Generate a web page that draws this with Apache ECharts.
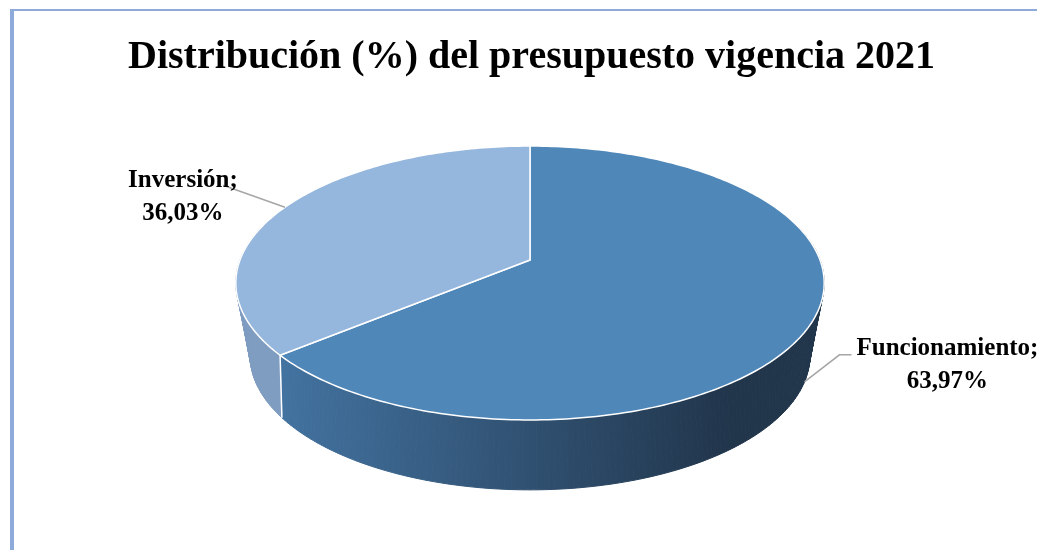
<!DOCTYPE html>
<html>
<head>
<meta charset="utf-8">
<script src="https://cdn.jsdelivr.net/npm/echarts@6/dist/echarts.min.js"></script>
<style>
html, body { margin: 0; padding: 0; background: #fff; }
#chart { width: 1037px; height: 550px; }
</style>
</head>
<body>
<div id="chart"></div>
<script>
const sliceNames = ['Funcionamiento', 'Inversión'];
const sliceShares = [63.97, 36.03];

// tilted pie geometry (top rim and bottom rim, perspective-ish)
const CX = 530;
const TOP = { cy: 260, r: 290, ry: 133.1, k: 0.168 };
const BOTTOM = { cy: 322, r: 271, ry: 125.9, k: 0.25 };

const topColors = ['#4f87b9', '#95b6dd'];
const sideColors = [
  {
    type: 'linear', x: 285, y: 0, x2: 730, y2: 0, global: true,
    colorStops: [{ offset: 0, color: '#42729f' }, { offset: 1, color: '#21354b' }]
  },
  '#7f9dc1'
];
// label + leader offsets relative to the slice anchor point
const labelLayout = [
  { text: [143, -17], leader: [[35, -27], [47, -27]] },
  { text: [-102, -10], leader: [[-62, -22]] }
];

const total = sliceShares.reduce((a, b) => a + b, 0);

function rim(ring, deg) {
  const a = deg * Math.PI / 180;
  const u = Math.sin(a), v = -Math.cos(a);
  const s = 1 / (1 - ring.k * v);
  return [CX + ring.r * u * s, ring.cy + ring.ry * v * s];
}

function fmt(v) {
  return v.toFixed(2).replace('.', ',') + '%';
}

function renderSlice(params, api) {
  const i = params.dataIndex;
  let before = 0;
  for (let j = 0; j < i; j++) before += sliceShares[j];
  const value = api.value(0);
  const a0 = before / total * 360;
  const a1 = (before + value) / total * 360;
  const children = [];

  // side wall, drawn as thin quads so the silhouette is filled
  const s0 = Math.max(a0, 75), s1 = Math.min(a1, 285);
  for (let t = s0; t < s1; t += 1) {
    const t2 = Math.min(t + 1, s1);
    children.push({
      type: 'polygon', z2: 1,
      shape: { points: [rim(TOP, t), rim(TOP, t2), rim(BOTTOM, t2), rim(BOTTOM, t)] },
      style: { fill: sideColors[i], stroke: sideColors[i], lineWidth: 1 }
    });
  }
  // visible vertical edge between slices
  if (-Math.cos(a0 * Math.PI / 180) > 0.05) {
    const p = rim(TOP, a0), q = rim(BOTTOM, a0);
    children.push({
      type: 'line', z2: 5,
      shape: { x1: p[0], y1: p[1], x2: q[0], y2: q[1] },
      style: { stroke: '#ffffff', lineWidth: 1.5 }
    });
  }

  // top face
  const pts = [[CX, TOP.cy]];
  for (let t = a0; t < a1; t += 1) pts.push(rim(TOP, t));
  pts.push(rim(TOP, a1));
  children.push({
    type: 'polygon', z2: 10,
    shape: { points: pts },
    style: { fill: topColors[i], stroke: '#ffffff', lineWidth: 1.5, lineJoin: 'round' }
  });

  // label with leader line
  const mid = (a0 + a1) / 2;
  const front = -Math.cos(mid * Math.PI / 180) > 0;
  const anchor = rim(front ? BOTTOM : TOP, mid);
  const lay = labelLayout[i];
  const leader = [anchor].concat(lay.leader.map(o => [anchor[0] + o[0], anchor[1] + o[1]]));
  children.push({
    type: 'polyline', z2: 20,
    shape: { points: leader },
    style: { stroke: '#a6a6a6', lineWidth: 1.5, fill: null }
  });
  children.push({
    type: 'text', z2: 30,
    style: {
      text: sliceNames[i] + ';\n' + fmt(value),
      x: anchor[0] + lay.text[0],
      y: anchor[1] + lay.text[1],
      fill: '#000000',
      font: 'bold 25px "Liberation Serif"',
      align: 'center',
      verticalAlign: 'middle',
      lineHeight: 33
    }
  });

  return { type: 'group', children };
}

const chart = echarts.init(document.getElementById('chart'), null, { renderer: 'canvas' });
chart.setOption({
  backgroundColor: '#ffffff',
  animation: false,
  title: {
    text: 'Distribución (%) del presupuesto vigencia 2021',
    left: 128,
    top: 38,
    padding: 0,
    textStyle: {
      fontFamily: 'Liberation Serif',
      fontWeight: 'bold',
      fontSize: 40,
      color: '#000000'
    }
  },
  graphic: [
    { type: 'rect', shape: { x: 10, y: 9, width: 1027, height: 2 }, style: { fill: '#8eaadb' } },
    { type: 'rect', shape: { x: 10, y: 9, width: 4, height: 541 }, style: { fill: '#8eaadb' } }
  ],
  series: [{
    type: 'custom',
    coordinateSystem: 'none',
    renderItem: renderSlice,
    data: sliceShares.map((v, i) => ({ name: sliceNames[i], value: v }))
  }]
});
</script>
</body>
</html>
